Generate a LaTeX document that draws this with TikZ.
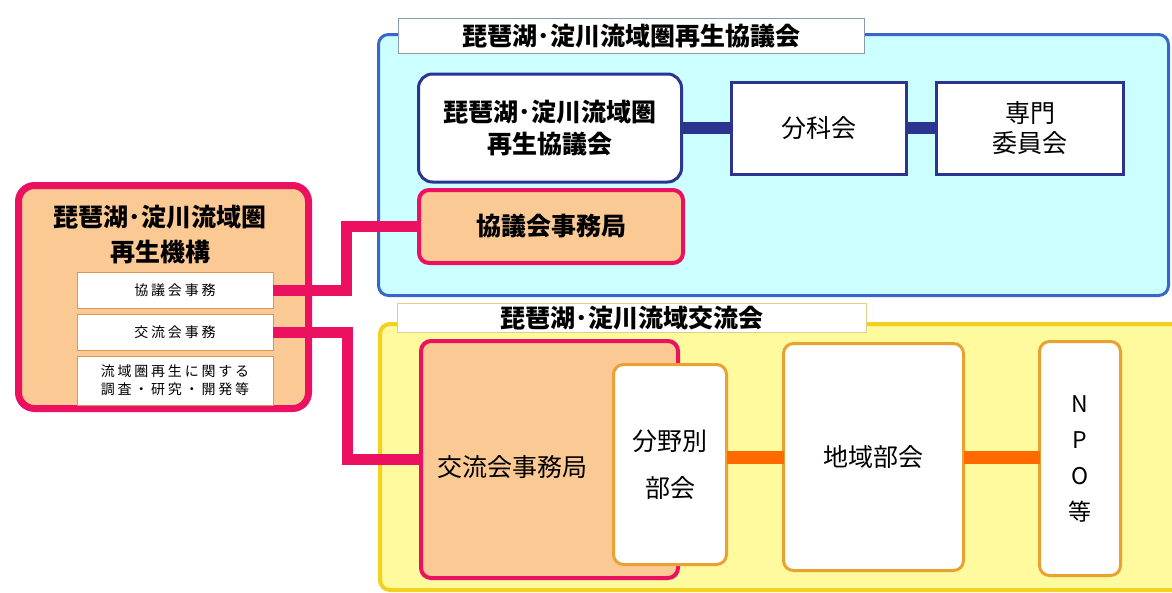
\documentclass[tikz,border=0pt]{standalone}
\usepackage{fontspec}
\setmainfont{Noto Sans CJK JP}
\definecolor{bluebd}{HTML}{3A66CC}
\definecolor{cyanbg}{HTML}{CCFFFF}
\definecolor{navy}{HTML}{2B3590}
\definecolor{pinkbd}{HTML}{EC1160}
\definecolor{peach}{HTML}{FBC994}
\definecolor{yellowbg}{HTML}{FFFA9E}
\definecolor{yellowbd}{HTML}{F2D21E}
\definecolor{orangebd}{HTML}{E9A232}
\definecolor{orangeln}{HTML}{FF6A00}
\definecolor{title1bd}{HTML}{8A9AB0}
\definecolor{title2bd}{HTML}{E2CF8A}
\definecolor{subbd}{HTML}{D8985A}
\begin{document}
\begin{tikzpicture}[x=1pt,y=-1pt,
  every node/.style={inner sep=0pt, outer sep=0pt},
  bigtext/.style={font=\fontsize{25}{32}\selectfont, align=center},
  boldtext/.style={font=\bfseries\fontsize{25}{32}\selectfont, align=center},
  bluearea/.style={draw=bluebd, line width=3pt, fill=cyanbg, rounded corners=10pt},
  yellowarea/.style={draw=yellowbd, line width=4pt, fill=yellowbg, rounded corners=10pt},
  titlebox/.style={fill=white, line width=1pt, boldtext},
  navybox/.style={draw=navy, line width=3pt, fill=white},
  peachbox/.style={draw=pinkbd, line width=4pt, fill=peach, rounded corners=10pt},
  orgbox/.style={draw=pinkbd, line width=7pt, fill=peach, rounded corners=16pt},
  whitebox/.style={draw=orangebd, line width=3pt, fill=white, rounded corners=10pt},
  subbox/.style={draw=subbd, line width=1pt, fill=white, align=center,
    font=\fontsize{14}{18}\selectfont\addfontfeature{LetterSpace=20}},
  navyline/.style={draw=navy, line width=12pt},
  pinkline/.style={draw=pinkbd, line width=11pt},
  orangeline/.style={draw=orangeln, line width=13pt},
]
\useasboundingbox (0,0) rectangle (1172,592);
\fill[white] (0,0) rectangle (1172,592);
\clip (0,0) rectangle (1172,592);

% --- upper area: council ---
\node[bluearea, minimum width=790pt, minimum height=261pt] (council) at (773.5,165) {};
\node[titlebox, draw=title1bd, minimum width=466pt, minimum height=35pt] (title1) at (631.5,36) {琵琶湖･淀川流域圏再生協議会};
\node[navybox, rounded corners=14pt, minimum width=263pt, minimum height=108pt, boldtext] (rbox) at (550,128) {琵琶湖･淀川流域圏\\再生協議会};
\node[navybox, minimum width=175pt, minimum height=92pt, bigtext] (bunka) at (819,128) {分科会};
\node[navybox, minimum width=187pt, minimum height=92pt, font=\fontsize{25}{30}\selectfont, align=center] (senmon) at (1030,128) {専門\\委員会};
\node[peachbox, minimum width=264pt, minimum height=73pt, boldtext] (kjim) at (551,226.5) {協議会事務局};
\draw[navyline] (rbox.east) -- (bunka.west);
\draw[navyline] (bunka.east) -- (senmon.west);

% --- lower area: exchange ---
\node[yellowarea, minimum width=803pt, minimum height=266pt] (exchange) at (781.5,457) {};
\node[titlebox, draw=title2bd, minimum width=469pt, minimum height=29pt] (title2) at (632,318) {琵琶湖･淀川流域交流会};
\node[peachbox, minimum width=257pt, minimum height=237pt] (kojim) at (549.5,459.5) {};
\node[bigtext] (kojimt) at (512,467) {交流会事務局};
\node[whitebox, minimum width=113pt, minimum height=200pt, font=\fontsize{25}{47}\selectfont, align=center] (bunya) at (670,464.5) {分野別\\部会};
\node[whitebox, minimum width=180pt, minimum height=227pt, bigtext] (chiiki) at (873.5,457) {地域部会};
\node[whitebox, minimum width=81pt, minimum height=234pt, font=\fontsize{23}{36}\selectfont, align=center] (npo) at (1080,458.5) {N\\P\\O\\等};
\draw[orangeline] (chiiki.west -| bunya.east) -- (chiiki.west);
\draw[orangeline] (chiiki.east) -- (chiiki.east -| npo.west);

% --- left: organisation ---
\node[orgbox, minimum width=290pt, minimum height=223pt] (org) at (163.5,297) {};
\node[font=\bfseries\fontsize{25}{35}\selectfont, align=center] (orgt) at (160,234.5) {琵琶湖･淀川流域圏\\再生機構};
\node[subbox, minimum width=196pt, minimum height=36pt] (sub1) at (175,290) {協議会事務};
\node[subbox, minimum width=196pt, minimum height=36pt] (sub2) at (175,332) {交流会事務};
\node[subbox, minimum width=196pt, minimum height=49pt] (sub3) at (175,380.5) {流域圏再生に関する\\調査・研究・開発等};

% --- connectors ---
\draw[pinkline] (sub1.east) -- ++(73,0) |- (kjim.west);
\draw[pinkline] (sub2.east) -- ++(74,0) |- (kojim.west);
\end{tikzpicture}
\end{document}
